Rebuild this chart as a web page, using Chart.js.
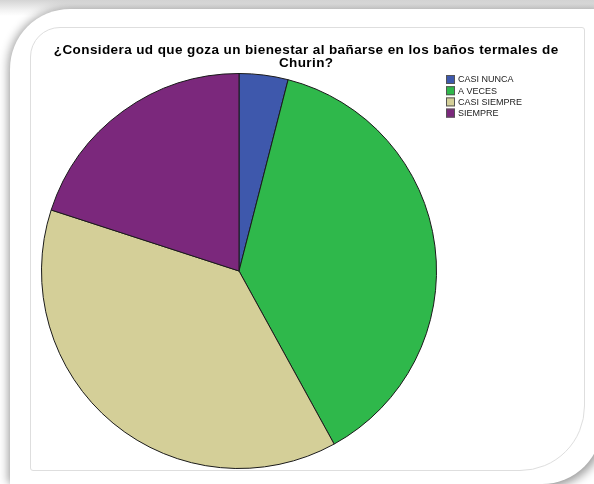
<!DOCTYPE html>
<html>
<head>
<meta charset="utf-8">
<script src="https://cdn.jsdelivr.net/npm/chart.js@4"></script>
<style>
  html,body{margin:0;padding:0;background:#fff;width:594px;height:484px;overflow:hidden;}
  #shade{position:absolute;left:0;top:0;width:594px;height:484px;background:linear-gradient(to bottom,#d4d4d4,#f2f2f2 10px,#fff 16px);}
  #outer{position:absolute;left:10px;top:9px;width:592px;height:475px;background:#fff;border-radius:60px 0 60px 0;box-shadow:-3px -1px 8px rgba(0,0,0,0.28), 4px 4px 8px rgba(0,0,0,0.3);}
  #inner{position:absolute;left:30px;top:27px;width:553px;height:442px;border:1px solid #dedede;border-radius:30px 3px 65px 3px;}
  #c{position:absolute;left:0;top:0;}
</style>
</head>
<body>
<div id="shade"></div>
<div id="outer"></div>
<div id="inner"></div>
<canvas id="c" width="594" height="484"></canvas>
<script>
const titleLines = ["¿Considera ud que goza un bienestar al bañarse en los baños termales de", "Churin?"];
const categories = ["CASI NUNCA", "A VECES", "CASI SIEMPRE", "SIEMPRE"];
const values = [4, 38, 38, 20];
const colors = ["#3e58ac", "#2fb84b", "#d4cf98", "#7b287c"];

const overlay = {
  id: 'overlay',
  afterDraw(chart) {
    const ctx = chart.ctx;
    ctx.save();
    ctx.fillStyle = '#000';
    ctx.font = 'bold 13.5px "Liberation Sans", Arial, sans-serif';
    ctx.textAlign = 'center';
    ctx.textBaseline = 'alphabetic';
    if ('letterSpacing' in ctx) ctx.letterSpacing = '0.4px';
    ctx.fillText(titleLines[0], 306.2, 54);
    ctx.fillText(titleLines[1], 306.2, 67);
    if ('letterSpacing' in ctx) ctx.letterSpacing = '0px';
    // legend
    ctx.font = '9px "Liberation Sans", Arial, sans-serif';
    ctx.textAlign = 'left';
    ctx.textBaseline = 'middle';
    const ds = chart.data.datasets[0];
    chart.data.labels.forEach((lab, i) => {
      const y = 75 + i * 11.2;
      ctx.fillStyle = ds.backgroundColor[i];
      ctx.fillRect(446, y, 9, 9);
      ctx.strokeStyle = '#555';
      ctx.lineWidth = 1;
      ctx.strokeRect(446.5, y + 0.5, 8, 8);
      ctx.fillStyle = '#222';
      ctx.fillText(lab, 458, y + 5);
    });
    ctx.restore();
  }
};

new Chart(document.getElementById('c'), {
  type: 'pie',
  data: {
    labels: categories,
    datasets: [{
      data: values,
      backgroundColor: colors,
      borderColor: '#1a1a1a',
      borderWidth: 1
    }]
  },
  options: {
    responsive: false,
    animation: false,
    layout: { padding: { left: 41, top: 73, right: 157, bottom: 15 } },
    plugins: {
      legend: { display: false },
      title: { display: false },
      tooltip: { enabled: false }
    }
  },
  plugins: [overlay]
});
</script>
</body>
</html>
